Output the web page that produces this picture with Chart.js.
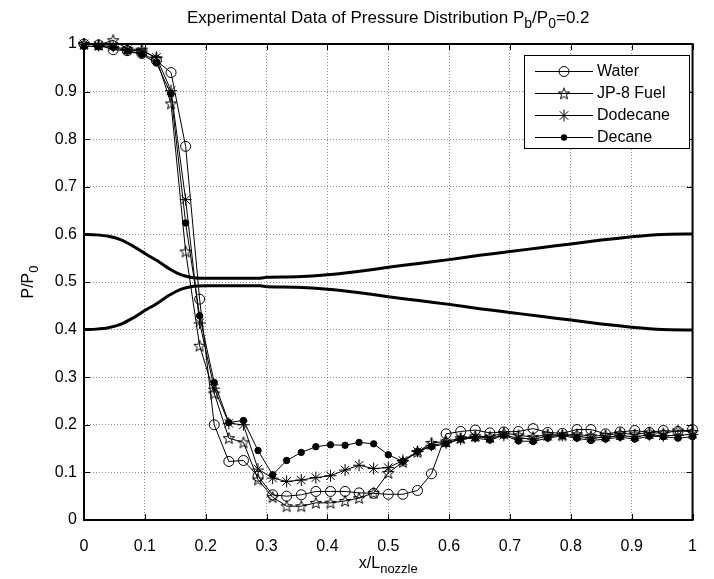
<!DOCTYPE html>
<html>
<head>
<meta charset="utf-8">
<script src="https://cdn.jsdelivr.net/npm/chart.js@4.4.0/dist/chart.umd.min.js"></script>
<style>
  html, body { margin: 0; padding: 0; background: #fff; }
  #wrap { width: 714px; height: 579px; }
</style>
</head>
<body>
<div id="wrap"><canvas id="pressureChart" width="714" height="579"></canvas></div>
<script>
// x/L positions of the pressure taps
const xPos = [0, 0.024, 0.048, 0.071, 0.095, 0.119, 0.143, 0.167, 0.190, 0.214, 0.238,
  0.262, 0.286, 0.310, 0.333, 0.357, 0.381, 0.405, 0.429, 0.452, 0.476, 0.500, 0.524,
  0.548, 0.571, 0.595, 0.619, 0.643, 0.667, 0.690, 0.714, 0.738, 0.762, 0.786, 0.810,
  0.833, 0.857, 0.881, 0.905, 0.929, 0.952, 0.976, 1.000];

const water = [1.000, 0.998, 0.988, 0.986, 0.980, 0.965, 0.940, 0.785, 0.464, 0.200, 0.123,
  0.125, 0.092, 0.053, 0.050, 0.053, 0.060, 0.060, 0.060, 0.057, 0.056, 0.054, 0.054,
  0.062, 0.097, 0.181, 0.186, 0.189, 0.183, 0.185, 0.186, 0.192, 0.184, 0.182, 0.190,
  0.190, 0.181, 0.185, 0.188, 0.184, 0.188, 0.186, 0.190];

const jp8 = [1.000, 0.998, 1.008, 0.990, 0.988, 0.970, 0.875, 0.564, 0.366, 0.266, 0.172,
  0.163, 0.085, 0.048, 0.029, 0.029, 0.036, 0.036, 0.040, 0.046, 0.057, 0.099, 0.122,
  0.143, 0.162, 0.165, 0.172, 0.176, 0.175, 0.183, 0.178, 0.174, 0.180, 0.178, 0.180,
  0.176, 0.178, 0.182, 0.180, 0.184, 0.182, 0.188, 0.185];

const dodecane = [1.000, 0.997, 0.995, 0.988, 0.985, 0.972, 0.902, 0.673, 0.414, 0.277, 0.203,
  0.200, 0.107, 0.088, 0.081, 0.084, 0.089, 0.093, 0.105, 0.115, 0.108, 0.110, 0.125,
  0.144, 0.157, 0.162, 0.170, 0.175, 0.172, 0.178, 0.172, 0.170, 0.176, 0.178, 0.176,
  0.172, 0.174, 0.177, 0.175, 0.179, 0.177, 0.178, 0.180];

const decane = [0.995, 0.995, 0.993, 0.985, 0.978, 0.960, 0.895, 0.624, 0.429, 0.289, 0.205,
  0.209, 0.146, 0.095, 0.125, 0.142, 0.154, 0.158, 0.157, 0.163, 0.160, 0.137, 0.123,
  0.144, 0.154, 0.160, 0.170, 0.172, 0.168, 0.178, 0.166, 0.165, 0.172, 0.177, 0.172,
  0.167, 0.170, 0.174, 0.170, 0.176, 0.175, 0.172, 0.175];

// nozzle wall contour (scaled)
const wallX = [0, 0.02, 0.04, 0.06, 0.08, 0.10, 0.12, 0.14, 0.16, 0.18, 0.20, 0.25, 0.29,
  0.30, 0.35, 0.40, 0.45, 0.50, 0.55, 0.60, 0.65, 0.70, 0.75, 0.80, 0.85, 0.90, 0.95, 1.00];
const wallUpper = [0.600, 0.599, 0.596, 0.589, 0.576, 0.560, 0.545, 0.528, 0.515, 0.509,
  0.508, 0.508, 0.508, 0.510, 0.511, 0.515, 0.522, 0.531, 0.539, 0.547, 0.556, 0.564,
  0.572, 0.580, 0.588, 0.595, 0.600, 0.601];
const wallLower = [0.400, 0.401, 0.404, 0.411, 0.424, 0.440, 0.455, 0.472, 0.485, 0.491,
  0.492, 0.492, 0.492, 0.490, 0.489, 0.485, 0.478, 0.469, 0.461, 0.453, 0.444, 0.436,
  0.428, 0.420, 0.412, 0.405, 0.400, 0.399];

const axisTicks = [0, 0.1, 0.2, 0.3, 0.4, 0.5, 0.6, 0.7, 0.8, 0.9, 1];
const seriesNames = ["Water", "JP-8 Fuel", "Dodecane", "Decane"];

const FONT = "'Liberation Sans', Arial, sans-serif";

function pentagram(size) {
  const c = document.createElement("canvas");
  c.width = c.height = size;
  const g = c.getContext("2d");
  const cx = size / 2, cy = size / 2 + 0.5, ro = size / 2 - 1, ri = ro * 0.42;
  g.beginPath();
  for (let k = 0; k < 10; k++) {
    const r = k % 2 ? ri : ro;
    const a = -Math.PI / 2 + k * Math.PI / 5;
    const px = cx + r * Math.cos(a), py = cy + r * Math.sin(a);
    k ? g.lineTo(px, py) : g.moveTo(px, py);
  }
  g.closePath();
  g.strokeStyle = "#000";
  g.lineWidth = 1;
  g.stroke();
  return c;
}
const starImg = pentagram(14);

const toPts = (xs, ys) => xs.map((v, i) => ({ x: v, y: ys[i] }));

const markerSets = [
  { data: water, pointStyle: "circle", pointRadius: 5, pointBackgroundColor: "rgba(0,0,0,0)" },
  { data: jp8, pointStyle: starImg, pointRadius: 7, pointBackgroundColor: "rgba(0,0,0,0)" },
  { data: dodecane, pointStyle: "star", pointRadius: 6, pointBackgroundColor: "rgba(0,0,0,0)" },
  { data: decane, pointStyle: "circle", pointRadius: 3.2, pointBackgroundColor: "#000" }
];

const datasets = markerSets.map((m, i) => ({
  label: seriesNames[i],
  data: toPts(xPos, m.data),
  borderColor: "#000",
  borderWidth: 1,
  pointStyle: m.pointStyle,
  pointRadius: m.pointRadius,
  pointBackgroundColor: m.pointBackgroundColor,
  pointBorderColor: "#000",
  pointBorderWidth: 1,
  tension: 0,
  clip: false
}));

[wallUpper, wallLower].forEach(w => datasets.push({
  label: "",
  data: toPts(wallX, w),
  borderColor: "#000",
  borderWidth: 3,
  pointRadius: 0,
  tension: 0.2
}));

function drawSubText(ctx, parts, x, y, size) {
  // parts: [text, isSub]
  const big = size + "px " + FONT, small = Math.round(size * 0.8) + "px " + FONT;
  let w = 0;
  parts.forEach(p => { ctx.font = p[1] ? small : big; w += ctx.measureText(p[0]).width; });
  let cx = x - w / 2;
  ctx.textAlign = "left";
  ctx.textBaseline = "alphabetic";
  parts.forEach(p => {
    ctx.font = p[1] ? small : big;
    ctx.fillText(p[0], cx, y + (p[1] ? size * 0.3 : 0));
    cx += ctx.measureText(p[0]).width;
  });
}

function drawMarker(ctx, i, x, y) {
  const m = markerSets[i];
  ctx.save();
  ctx.strokeStyle = "#000";
  ctx.lineWidth = 1;
  if (i === 0) {
    ctx.beginPath(); ctx.arc(x, y, m.pointRadius, 0, 2 * Math.PI); ctx.stroke();
  } else if (i === 1) {
    ctx.drawImage(starImg, x - starImg.width / 2, y - starImg.height / 2);
  } else if (i === 2) {
    const r = m.pointRadius;
    ctx.beginPath();
    for (let k = 0; k < 4; k++) {
      const a = k * Math.PI / 4;
      ctx.moveTo(x - r * Math.cos(a), y - r * Math.sin(a));
      ctx.lineTo(x + r * Math.cos(a), y + r * Math.sin(a));
    }
    ctx.stroke();
  } else {
    ctx.fillStyle = "#000";
    ctx.beginPath(); ctx.arc(x, y, m.pointRadius, 0, 2 * Math.PI); ctx.fill();
  }
  ctx.restore();
}

const matlabFrame = {
  id: "matlabFrame",
  beforeDatasetsDraw(chart) {
    const { ctx, chartArea: a, scales: { x, y } } = chart;
    ctx.save();
    ctx.strokeStyle = "#000";
    ctx.lineWidth = 1;
    ctx.beginPath();
    x.ticks.forEach(t => {
      const px = Math.round(x.getPixelForValue(t.value)) + 0.5;
      ctx.moveTo(px, a.bottom); ctx.lineTo(px, a.bottom - 6);
      ctx.moveTo(px, a.top); ctx.lineTo(px, a.top + 6);
    });
    y.ticks.forEach(t => {
      const py = Math.round(y.getPixelForValue(t.value)) + 0.5;
      ctx.moveTo(a.left, py); ctx.lineTo(a.left + 6, py);
      ctx.moveTo(a.right, py); ctx.lineTo(a.right - 6, py);
    });
    ctx.stroke();
    ctx.lineWidth = 2;
    ctx.strokeRect(a.left, a.top, a.width, a.height);
    ctx.restore();
  },
  afterDraw(chart) {
    const { ctx, chartArea: a } = chart;
    ctx.save();
    ctx.fillStyle = "#000";
    // title
    drawSubText(ctx, [["Experimental Data of Pressure Distribution P", 0], ["b", 1], ["/P", 0], ["0", 1], ["=0.2", 0]],
      (a.left + a.right) / 2, 23, 17);
    // x label
    drawSubText(ctx, [["x/L", 0], ["nozzle", 1]], (a.left + a.right) / 2, 568, 16);
    // y label
    ctx.save();
    ctx.translate(33, (a.top + a.bottom) / 2);
    ctx.rotate(-Math.PI / 2);
    drawSubText(ctx, [["P/P", 0], ["0", 1]], 0, 0, 16);
    ctx.restore();

    // legend
    const bx = 524, by = 55, bw = 165, bh = 93;
    ctx.fillStyle = "#fff";
    ctx.fillRect(bx, by, bw, bh);
    ctx.strokeStyle = "#000";
    ctx.lineWidth = 1;
    ctx.strokeRect(bx + 0.5, by + 0.5, bw, bh);
    seriesNames.forEach((name, i) => {
      const ly = by + 16 + i * 22;
      ctx.beginPath();
      ctx.moveTo(535, ly + 0.5); ctx.lineTo(593, ly + 0.5);
      ctx.stroke();
      drawMarker(ctx, i, 564, ly + 0.5);
      ctx.fillStyle = "#000";
      ctx.font = "16px " + FONT;
      ctx.textAlign = "left";
      ctx.textBaseline = "middle";
      ctx.fillText(name, 597, ly + 1);
    });
    ctx.restore();
  }
};

const tickCfg = {
  color: "#000",
  font: { family: FONT, size: 16 },
  callback: v => String(+v.toFixed(1))
};

new Chart(document.getElementById("pressureChart").getContext("2d"), {
  type: "line",
  data: { datasets },
  options: {
    responsive: false,
    animation: false,
    layout: { padding: { left: 0, top: 44, right: 19, bottom: 0 } },
    plugins: { legend: { display: false }, tooltip: { enabled: false }, title: { display: false } },
    scales: {
      x: {
        type: "linear",
        min: 0, max: 1,
        afterBuildTicks: s => { s.ticks = axisTicks.map(v => ({ value: v })); },
        afterFit: s => { s.height = 59; },
        ticks: Object.assign({ padding: 17, maxRotation: 0 }, tickCfg),
        grid: { color: "rgba(0,0,0,0.45)", lineWidth: 1, drawTicks: false },
        border: { display: false, dash: [1, 2] }
      },
      y: {
        min: 0, max: 1,
        afterBuildTicks: s => { s.ticks = axisTicks.map(v => ({ value: v })); },
        afterFit: s => { s.width = 84; },
        ticks: Object.assign({ padding: 7 }, tickCfg),
        grid: { color: "rgba(0,0,0,0.45)", lineWidth: 1, drawTicks: false },
        border: { display: false, dash: [1, 2] }
      }
    }
  },
  plugins: [matlabFrame]
});
</script>
</body>
</html>
